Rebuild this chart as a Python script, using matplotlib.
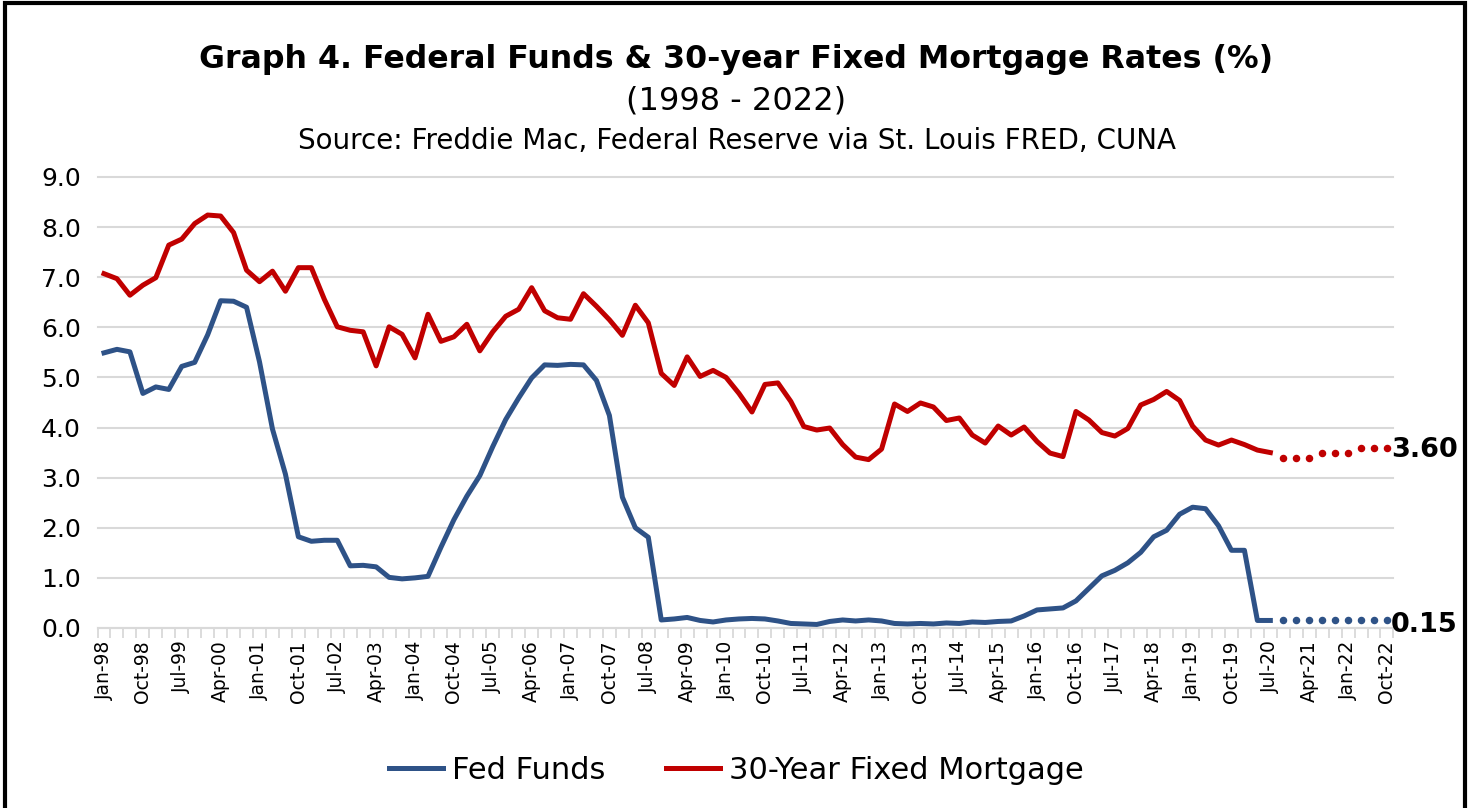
import matplotlib.pyplot as plt
from matplotlib.patches import Rectangle
import numpy as np

plt.rcParams['font.family'] = ['DejaVu Sans']

# quarterly categories Jan-98 .. Oct-22
months = ['Jan', 'Apr', 'Jul', 'Oct']
quarters = [f"{months[k % 4]}-{(98 + k // 4) % 100:02d}" for k in range(100)]

fed_funds = [5.49, 5.56, 5.51, 4.68, 4.81, 4.76, 5.22, 5.30, 5.85, 6.53,
             6.52, 6.40, 5.31, 3.97, 3.07, 1.82, 1.73, 1.75, 1.75, 1.24,
             1.25, 1.22, 1.01, 0.98, 1.00, 1.03, 1.61, 2.16, 2.63, 3.04,
             3.62, 4.16, 4.59, 4.99, 5.25, 5.24, 5.26, 5.25, 4.94, 4.24,
             2.61, 2.00, 1.81, 0.16, 0.18, 0.21, 0.15, 0.12, 0.16, 0.18,
             0.19, 0.18, 0.14, 0.09, 0.08, 0.07, 0.13, 0.16, 0.14, 0.16,
             0.14, 0.09, 0.08, 0.09, 0.08, 0.10, 0.09, 0.12, 0.11, 0.13,
             0.14, 0.24, 0.36, 0.38, 0.40, 0.54, 0.79, 1.04, 1.15, 1.30,
             1.51, 1.82, 1.95, 2.27, 2.41, 2.38, 2.04, 1.55, 1.55, 0.15,
             0.15]

mortgage = [7.07, 6.97, 6.64, 6.84, 6.99, 7.64, 7.76, 8.07, 8.24, 8.22,
            7.89, 7.14, 6.91, 7.12, 6.72, 7.19, 7.19, 6.56, 6.01, 5.94,
            5.91, 5.23, 6.01, 5.86, 5.39, 6.26, 5.72, 5.81, 6.06, 5.53,
            5.91, 6.22, 6.36, 6.79, 6.33, 6.19, 6.16, 6.67, 6.42, 6.15,
            5.84, 6.44, 6.09, 5.08, 4.84, 5.41, 5.02, 5.14, 5.00, 4.68,
            4.31, 4.86, 4.89, 4.52, 4.02, 3.95, 3.99, 3.66, 3.41, 3.36,
            3.57, 4.47, 4.32, 4.49, 4.41, 4.14, 4.19, 3.85, 3.69, 4.03,
            3.85, 4.01, 3.72, 3.49, 3.42, 4.32, 4.15, 3.90, 3.83, 3.98,
            4.45, 4.56, 4.72, 4.54, 4.03, 3.75, 3.65, 3.75, 3.66, 3.55,
            3.50]

# forecast, Oct-20 .. Oct-22
fed_forecast = [0.15, 0.15, 0.15, 0.15, 0.15, 0.15, 0.15, 0.15, 0.15]
mortgage_forecast = [3.40, 3.40, 3.40, 3.50, 3.50, 3.50, 3.60, 3.60, 3.60]

blue = '#2E5287'
red = '#C00000'

fig = plt.figure(figsize=(14.73, 8.08), dpi=100)
ax = fig.add_axes([0.0662, 0.2228, 0.8798, 0.5582])

x_hist = np.arange(len(fed_funds))
x_fc = np.arange(len(fed_funds), len(fed_funds) + len(fed_forecast))

ax.plot(x_hist, fed_funds, color=blue, lw=3.6, solid_joinstyle='round', label='Fed Funds')
ax.plot(x_hist, mortgage, color=red, lw=3.6, solid_joinstyle='round', label='30-Year Fixed Mortgage')
ax.plot(x_fc, fed_forecast, ls='none', marker='o', ms=4.4, color=blue)
ax.plot(x_fc, mortgage_forecast, ls='none', marker='o', ms=4.4, color=red)

ax.annotate(f"{mortgage_forecast[-1]:.2f}", (x_fc[-1], mortgage_forecast[-1]), xytext=(3, -2),
            textcoords='offset points', va='center', ha='left', fontsize=19.5, fontweight='bold')
ax.annotate(f"{fed_forecast[-1]:.2f}", (x_fc[-1], fed_forecast[-1]), xytext=(3, -3),
            textcoords='offset points', va='center', ha='left', fontsize=19.5, fontweight='bold',
            annotation_clip=False)

ax.set_xlim(-0.5, 99.5)
ax.set_ylim(0, 9)
ax.set_yticks(np.arange(0, 9.5, 1.0))
ax.set_yticklabels([f"{v:.1f}" for v in np.arange(0, 9.5, 1.0)], fontsize=18)
ax.tick_params(axis='y', length=0, pad=12)

ax.set_xticks(np.arange(0, 100, 3))
ax.set_xticklabels(quarters[::3], rotation=90, fontsize=13.5)
ax.set_xticks(np.arange(-0.5, 100, 1), minor=True)
ax.tick_params(axis='x', which='major', length=0, pad=9)
ax.tick_params(axis='x', which='minor', length=7, color='#d9d9d9', width=1.3)

ax.grid(axis='y', color='#d9d9d9', lw=1.5)
for g in ax.get_ygridlines():
    g.set_clip_on(False)
ax.set_axisbelow(True)
for s in ['top', 'right', 'left']:
    ax.spines[s].set_visible(False)
ax.spines['bottom'].set_color('#d9d9d9')
ax.spines['bottom'].set_linewidth(1.5)

fig.text(0.5, 0.926, 'Graph 4. Federal Funds & 30-year Fixed Mortgage Rates (%)',
         ha='center', va='center', fontsize=22.8, fontweight='bold')
fig.text(0.5, 0.875, '(1998 - 2022)', ha='center', va='center', fontsize=23)
fig.text(0.5, 0.825, 'Source: Freddie Mac, Federal Reserve via St. Louis FRED, CUNA',
         ha='center', va='center', fontsize=20)

fig.legend(loc='center', bbox_to_anchor=(0.5, 0.047), ncol=2, frameon=False,
           fontsize=22, handlelength=1.75, handletextpad=0.3, columnspacing=2.0)

fig.patches.append(Rectangle((0.0034, -0.05), 0.9915, 1.046, transform=fig.transFigure,
                             fill=False, edgecolor='black', lw=3.0))

fig.savefig('out.png', dpi=100)
